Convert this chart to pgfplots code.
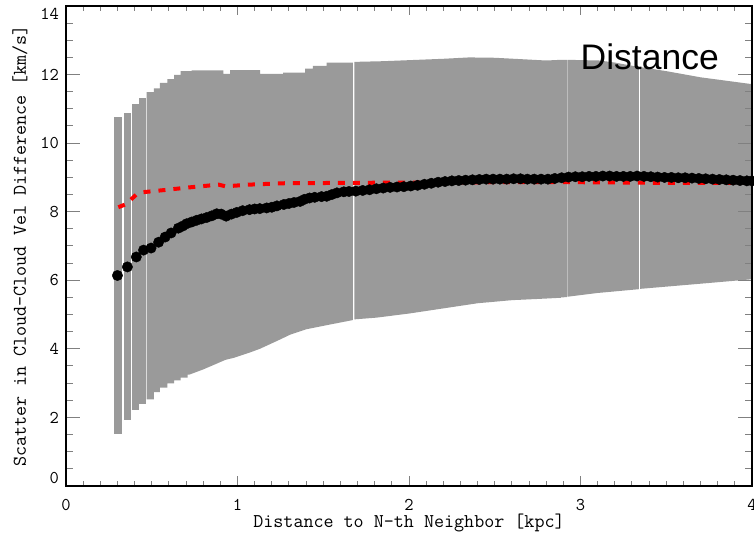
\documentclass[border=0pt]{standalone}
\usepackage{fontspec}
\usepackage{pgfplots}
\pgfplotsset{compat=1.18}
\newfontfamily\heros{Liberation Sans}
\definecolor{bandgray}{RGB}{154,154,154}

\begin{document}
\begin{tikzpicture}
\begin{axis}[
  at={(0pt,0pt)}, anchor=south west,
  scale only axis, width=686pt, height=480pt,
  xmin=0, xmax=4, ymin=0, ymax=14,
  xtick={0,1,2,3,4}, ytick={0,2,4,6,8,10,12,14},
  yticklabels={,2,4,6,8,10,12,},
  extra y ticks={0.233,13.767},
  extra y tick labels={0,14},
  extra y tick style={tick style={draw=none}},
  minor x tick num=9, minor y tick num=3,
  tick align=inside, tick pos=both,
  axis line style={line width=1.3pt},
  xtick style={line width=1pt,/pgfplots/major tick length=9.5pt,/pgfplots/minor tick length=4.8pt},
  ytick style={line width=1pt,/pgfplots/major tick length=13.7pt,/pgfplots/minor tick length=6.9pt},
  /pgf/number format/assume math mode=true,
  tick label style={font=\ttfamily\fontsize{18}{20}\selectfont, inner sep=0pt},
  x tick label style={anchor=north, yshift=-13pt},
  y tick label style={anchor=east, xshift=-7pt},
  xlabel={Distance to N{-}th Neighbor [kpc]},
  ylabel={Scatter in Cloud{-}Cloud Vel Difference [km/s]},
  label style={font=\ttfamily\fontsize{19.5}{22}\selectfont, inner sep=0pt},
  xlabel style={at={(axis description cs:0.5,-0.0875)}, anchor=base},
  ylabel style={at={(axis description cs:-0.067,0.5)}, anchor=center},
  axis on top,
]
% --- gray scatter band (segments separated by small gaps) ---
\addplot[fill=bandgray, draw=none] coordinates {
 (0.280,10.75) (0.327,10.75) (0.327,1.53) (0.280,1.53)};
\addplot[fill=bandgray, draw=none] coordinates {
 (0.338,10.88) (0.381,10.88) (0.381,1.92) (0.338,1.92)};
\addplot[fill=bandgray, draw=none] coordinates {
 (0.3835,11.14) (0.426,11.14) (0.426,2.21) (0.3835,2.21)};
\addplot[fill=bandgray, draw=none] coordinates {
 (0.4275,11.33) (0.469,11.33) (0.469,2.38) (0.4275,2.38)};
\addplot[fill=bandgray, draw=none] coordinates {
 (0.4705,11.49) (0.513,11.49) (0.513,11.60) (0.548,11.60) (0.548,11.76)
 (0.591,11.76) (0.591,11.87) (0.630,11.87) (0.630,11.99) (0.669,11.99)
 (0.669,12.10) (0.733,12.10) (0.733,12.12) (0.918,12.12) (0.918,12.02)
 (0.957,12.02) (0.957,12.13) (1.132,12.13) (1.132,12.02) (1.266,12.02)
 (1.266,12.06) (1.394,12.06) (1.394,12.17) (1.44,12.17) (1.44,12.25)
 (1.52,12.25) (1.52,12.35) (1.673,12.35)
 (1.673,4.84) (1.55,4.72) (1.40,4.57) (1.31,4.42) (1.23,4.23) (1.13,4.00)
 (1.07,3.89) (0.98,3.74) (0.93,3.68) (0.87,3.55) (0.80,3.40) (0.72,3.25)
 (0.709,3.25) (0.709,3.16) (0.669,3.16) (0.669,3.08) (0.630,3.08)
 (0.630,2.99) (0.591,2.99) (0.591,2.87) (0.548,2.87) (0.548,2.74)
 (0.513,2.74) (0.513,2.53) (0.4705,2.53)};
\addplot[fill=bandgray, draw=none] coordinates {
 (1.681,12.37) (1.85,12.39) (2.00,12.42) (2.20,12.46) (2.35,12.50)
 (2.50,12.49) (2.65,12.45) (2.80,12.41) (2.885,12.43)
 (2.885,5.49) (2.77,5.46) (2.60,5.42) (2.40,5.33) (2.20,5.18) (2.00,5.03)
 (1.81,4.91) (1.681,4.86)};
\addplot[fill=bandgray, draw=none] coordinates {
 (2.8865,12.43) (2.921,12.43) (2.921,5.51) (2.8865,5.50)};
\addplot[fill=bandgray, draw=none] coordinates {
 (2.924,12.43) (3.11,12.41) (3.20,12.35) (3.341,12.22)
 (3.341,5.74) (3.10,5.63) (2.924,5.52)};
\addplot[fill=bandgray, draw=none] coordinates {
 (3.348,12.22) (3.50,12.10) (3.70,11.92) (4.00,11.72)
 (4.00,6.03) (3.70,5.90) (3.348,5.75)};
% --- black dots ---
\addplot[only marks, mark=*, mark size=5.2pt, black] coordinates {
 (0.300,6.14) (0.358,6.39) (0.410,6.68) (0.452,6.88) (0.496,6.94)
 (0.540,7.11) (0.578,7.26) (0.613,7.38) (0.655,7.52) (0.680,7.58)
 (0.704,7.65) (0.733,7.70) (0.762,7.75) (0.790,7.79) (0.820,7.83)
 (0.850,7.88) (0.879,7.94) (0.905,7.93) (0.934,7.87) (0.965,7.93)
 (0.996,7.98) (1.03,8.03) (1.07,8.06) (1.10,8.08) (1.13,8.09)
 (1.17,8.11) (1.20,8.13) (1.23,8.17) (1.27,8.21) (1.30,8.24)
 (1.33,8.27) (1.365,8.30) (1.39,8.36) (1.42,8.40) (1.45,8.42)
 (1.49,8.44) (1.52,8.45) (1.55,8.50) (1.58,8.55) (1.62,8.58)
 (1.65,8.59) (1.69,8.60) (1.73,8.62) (1.77,8.64) (1.81,8.67)
 (1.85,8.69) (1.89,8.71) (1.93,8.72) (1.97,8.73) (2.01,8.75)
 (2.05,8.77) (2.09,8.80) (2.13,8.83) (2.17,8.86) (2.21,8.88)
 (2.25,8.90) (2.29,8.91) (2.33,8.92) (2.37,8.93) (2.41,8.94)
 (2.45,8.95) (2.49,8.95) (2.53,8.95) (2.57,8.95) (2.61,8.96)
 (2.65,8.96) (2.69,8.95) (2.73,8.95) (2.77,8.95) (2.81,8.95)
 (2.85,8.97) (2.89,8.99) (2.93,9.01) (2.97,9.02) (3.01,9.02)
 (3.05,9.03) (3.09,9.03) (3.13,9.04) (3.17,9.04) (3.21,9.03)
 (3.25,9.03) (3.29,9.03) (3.33,9.04) (3.37,9.03) (3.41,9.02)
 (3.45,9.01) (3.49,9.00) (3.53,9.00) (3.57,8.99) (3.61,8.99)
 (3.65,8.98) (3.69,8.97) (3.73,8.96) (3.77,8.95) (3.81,8.94)
 (3.85,8.93) (3.89,8.92) (3.93,8.91) (3.97,8.90) (4.00,8.90)};
% --- red dashed ---
\addplot[red, line width=4pt, dash pattern=on 7pt off 8pt, no marks] coordinates {
 (0.305,8.13) (0.35,8.22) (0.41,8.50) (0.45,8.57) (0.59,8.64)
 (0.72,8.71) (0.89,8.79) (0.93,8.74) (1.07,8.79) (1.27,8.83)
 (1.60,8.84) (2.00,8.85) (2.50,8.86) (3.00,8.86) (3.50,8.84) (4.00,8.84)};
\node[anchor=base west, inner sep=0pt, font=\heros\fontsize{35.5}{40}\selectfont]
  at (axis cs:3.0,12.14) {Distance};
\end{axis}
\pgfresetboundingbox
\path[use as bounding box] (-66pt,-54pt) rectangle (688pt,486pt);
\end{tikzpicture}
\end{document}
